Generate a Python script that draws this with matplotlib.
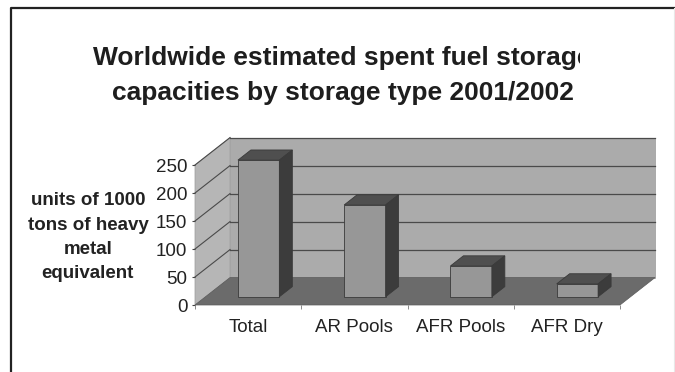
import matplotlib
matplotlib.use('Agg')
import matplotlib.pyplot as plt
from matplotlib.patches import Polygon
from matplotlib.lines import Line2D
from matplotlib.transforms import Bbox, TransformedBbox

plt.rcParams['font.family'] = ['Liberation Sans', 'DejaVu Sans']

# data
categories = ['Total', 'AR Pools', 'AFR Pools', 'AFR Dry']
values = [244, 164, 55, 23]   # units of 1000 tons of heavy metal equivalent
yticks = [0, 50, 100, 150, 200, 250]
ymax = 250

# fake 3d look (oblique projection)
depth_x = 0.33     # depth in x data units
depth_y = 49.0     # depth in value units
t0, t1 = 0.30, 0.67   # where the bars sit inside the depth
bar_w = 0.39

fig = plt.figure(figsize=(6.75, 3.72), dpi=100)
ax = fig.add_axes([195/675, 67/372, 425/675, 140/372])
ax.set_xlim(0, len(categories))
ax.set_ylim(0, ymax)
for s in ax.spines.values():
    s.set_visible(False)

n = len(categories)
edge = '#3a3a3a'

# walls + floor
back = Polygon([(depth_x, depth_y), (n + depth_x, depth_y),
                (n + depth_x, ymax + depth_y), (depth_x, ymax + depth_y)],
               closed=True, fc='#ababab', ec='#9a9a9a', lw=0.5, clip_on=False, zorder=1)
left = Polygon([(0, 0), (depth_x, depth_y), (depth_x, ymax + depth_y), (0, ymax)],
               closed=True, fc='#b6b6b6', ec='#9a9a9a', lw=0.5, clip_on=False, zorder=1)
floor = Polygon([(0, 0), (n, 0), (n + depth_x, depth_y), (depth_x, depth_y)],
                closed=True, fc='#6b6b6b', ec='#5a5a5a', lw=0.5, clip_on=False, zorder=2)
for p in (back, left, floor):
    ax.add_patch(p)

# gridlines on the walls
for v in yticks[1:]:
    ax.plot([depth_x, n + depth_x], [v + depth_y, v + depth_y], color='#4a4a4a',
            lw=0.9, clip_on=False, zorder=1.5)
    ax.plot([0, depth_x], [v, v + depth_y], color='#4a4a4a', lw=0.8,
            clip_on=False, zorder=1.5)

# bars
xs = [i + 0.5 + t0 * depth_x for i in range(n)]
base = t0 * depth_y
ax.bar(xs, values, width=bar_w, bottom=base, color='#979797', edgecolor=edge,
       linewidth=0.6, clip_on=False, zorder=3)
ddx = (t1 - t0) * depth_x
ddy = (t1 - t0) * depth_y
for x, v in zip(xs, values):
    xl, xr = x - bar_w / 2, x + bar_w / 2
    top = v + base
    ax.add_patch(Polygon([(xl, top), (xr, top), (xr + ddx, top + ddy), (xl + ddx, top + ddy)],
                         closed=True, fc='#4f4f4f', ec=edge, lw=0.6, clip_on=False, zorder=3))
    ax.add_patch(Polygon([(xr, base), (xr, top), (xr + ddx, top + ddy), (xr + ddx, base + ddy)],
                         closed=True, fc='#3c3c3c', ec=edge, lw=0.6, clip_on=False, zorder=3))

# axes ticks and labels
ax.set_yticks(yticks)
ax.set_yticklabels([str(t) for t in yticks], fontsize=13.5, color='#222222')
ax.tick_params(axis='y', length=2.5, pad=3, color='#444444')
ax.set_xticks([i + 0.5 for i in range(n)])
ax.set_xticklabels(categories, fontsize=13.5, color='#222222')
ax.set_xticks(range(n + 1), minor=True)
ax.tick_params(axis='x', which='major', length=0, pad=10)
ax.tick_params(axis='x', which='minor', length=3, color='#777777')

ax.set_ylabel('units of 1000\ntons of heavy\nmetal\nequivalent', rotation=0,
              fontsize=13.5, fontweight='bold', color='#222222', ha='center',
              va='center', linespacing=1.55)
ax.yaxis.set_label_coords(-0.252, 0.485)

# title, first line cut off at the right like in the scan
t1_ = fig.text(342.5/675, 1 - 58/372, 'Worldwide estimated spent fuel storage',
               ha='center', va='center', fontsize=19, fontweight='bold', color='#1e1e1e')
t1_.set_clip_box(TransformedBbox(Bbox([[0, 0], [580/675, 1]]), fig.transFigure))
t1_.set_clip_on(True)
fig.text(342.5/675, 1 - 93/372, 'capacities by storage type 2001/2002',
         ha='center', va='center', fontsize=19, fontweight='bold', color='#1e1e1e')

# frame of the scanned page
fy = 1 - 8/372
fig.add_artist(Line2D([11/675, 11/675, 1], [0, fy, fy], color='#222222', lw=1.6))
fig.add_artist(Line2D([673.5/675, 673.5/675], [0, fy], color='#e8e8e8', lw=0.8))

fig.savefig('out.png', dpi=100)
